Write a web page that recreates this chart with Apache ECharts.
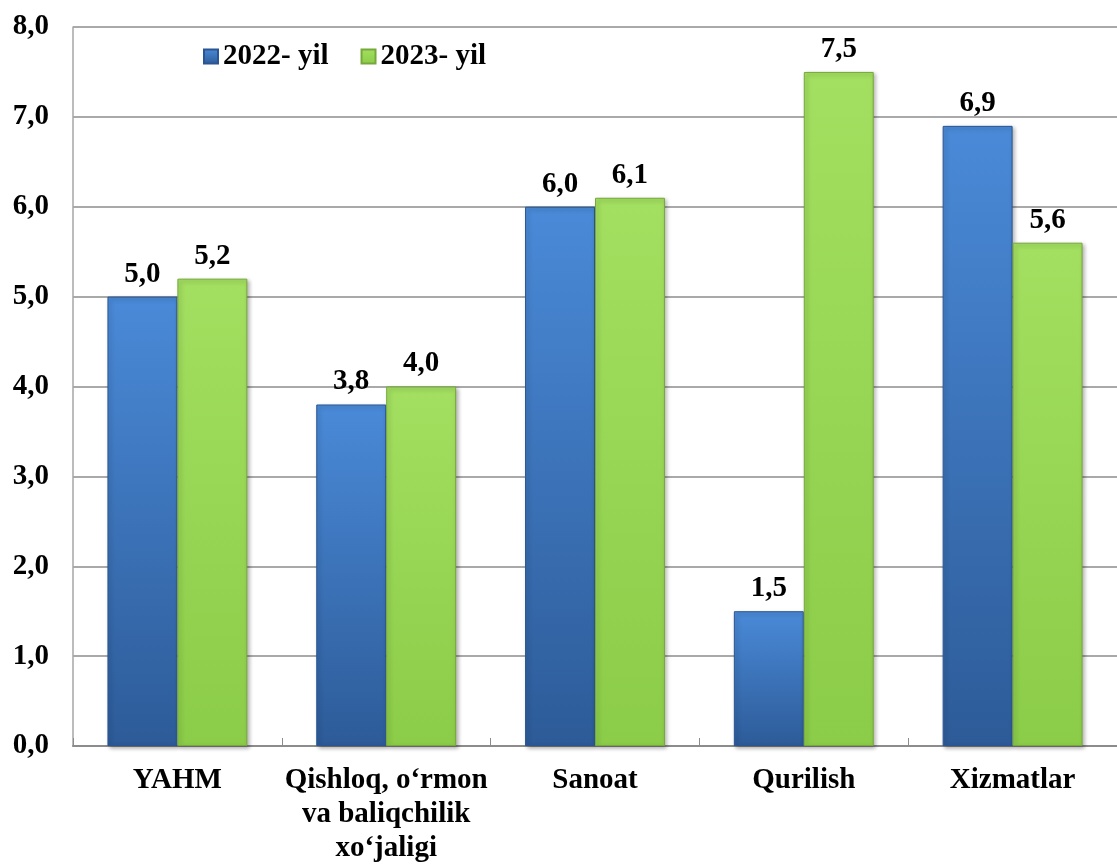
<!DOCTYPE html>
<html>
<head>
<meta charset="utf-8">
<script src="https://cdn.jsdelivr.net/npm/echarts@6/dist/echarts.min.js"></script>
<style>
  html, body { margin: 0; padding: 0; background: #fff; }
  #chart { width: 1117px; height: 866px; }
</style>
</head>
<body>
<div id="chart"></div>
<script>
// data
var categories = ['YAHM', 'Qishloq, o‘rmon\nva baliqchilik\nxo‘jaligi', 'Sanoat', 'Qurilish', 'Xizmatlar'];
var seriesNames = ['2022- yil', '2023- yil'];
var values2022 = [5.0, 3.8, 6.0, 1.5, 6.9];
var values2023 = [5.2, 4.0, 6.1, 7.5, 5.6];

var FONT = '"Liberation Serif", "Times New Roman", serif';
var FS = 29;

function fmt(v) {
    return v.toFixed(1).replace('.', ',');
}

function grad(top, bottom) {
    return new echarts.graphic.LinearGradient(0, 0, 0, 1, [
        { offset: 0, color: top },
        { offset: 1, color: bottom }
    ]);
}

var chart = echarts.init(document.getElementById('chart'));

var labelStyle = {
    show: true,
    position: 'top',
    distance: 8,
    fontFamily: FONT,
    fontWeight: 'bold',
    fontSize: FS,
    color: '#000',
    formatter: function (p) { return fmt(p.value); }
};

var option = {
    animation: false,
    textStyle: { fontFamily: FONT },
    legend: {
        left: 198,
        top: 37,
        icon: 'rect',
        itemWidth: 14,
        itemHeight: 14,
        itemGap: 32,
        textStyle: { fontFamily: FONT, fontWeight: 'bold', fontSize: FS, color: '#000' },
        data: seriesNames
    },
    grid: { left: 73, right: 0, top: 27, bottom: 116, containLabel: false },
    xAxis: {
        type: 'category',
        data: categories,
        axisLine: { lineStyle: { color: '#8c8c8c', width: 2 } },
        axisTick: { show: true, inside: true, length: 8, lineStyle: { color: '#8c8c8c', width: 1 } },
        axisLabel: {
            fontFamily: FONT, fontWeight: 'bold', fontSize: FS, color: '#000',
            margin: 18, lineHeight: 34, interval: 0
        }
    },
    yAxis: {
        type: 'value',
        min: 0,
        max: 8,
        interval: 1,
        axisLine: { show: true, lineStyle: { color: '#a6a6a6', width: 1.5 } },
        axisTick: { show: false },
        splitLine: { lineStyle: { color: '#8c8c8c', width: 1.5 } },
        axisLabel: {
            fontFamily: FONT, fontWeight: 'bold', fontSize: FS, color: '#000',
            margin: 24,
            formatter: function (v) { return fmt(v); }
        }
    },
    series: [
        {
            name: seriesNames[0],
            type: 'bar',
            data: values2022,
            barGap: '0%',
            barCategoryGap: '33%',
            itemStyle: {
                color: grad('#4a8ad8', '#2d5b98'),
                borderColor: '#2a5592',
                borderWidth: 1,
                shadowColor: 'rgba(0,0,0,0.3)',
                shadowBlur: 4,
                shadowOffsetX: 2,
                shadowOffsetY: 2
            },
            label: labelStyle
        },
        {
            name: seriesNames[1],
            type: 'bar',
            data: values2023,
            itemStyle: {
                color: grad('#a3df60', '#8bcc48'),
                borderColor: '#76a83a',
                borderWidth: 1,
                shadowColor: 'rgba(0,0,0,0.3)',
                shadowBlur: 4,
                shadowOffsetX: 2,
                shadowOffsetY: 2
            },
            label: labelStyle
        }
    ]
};

chart.setOption(option);
</script>
</body>
</html>
